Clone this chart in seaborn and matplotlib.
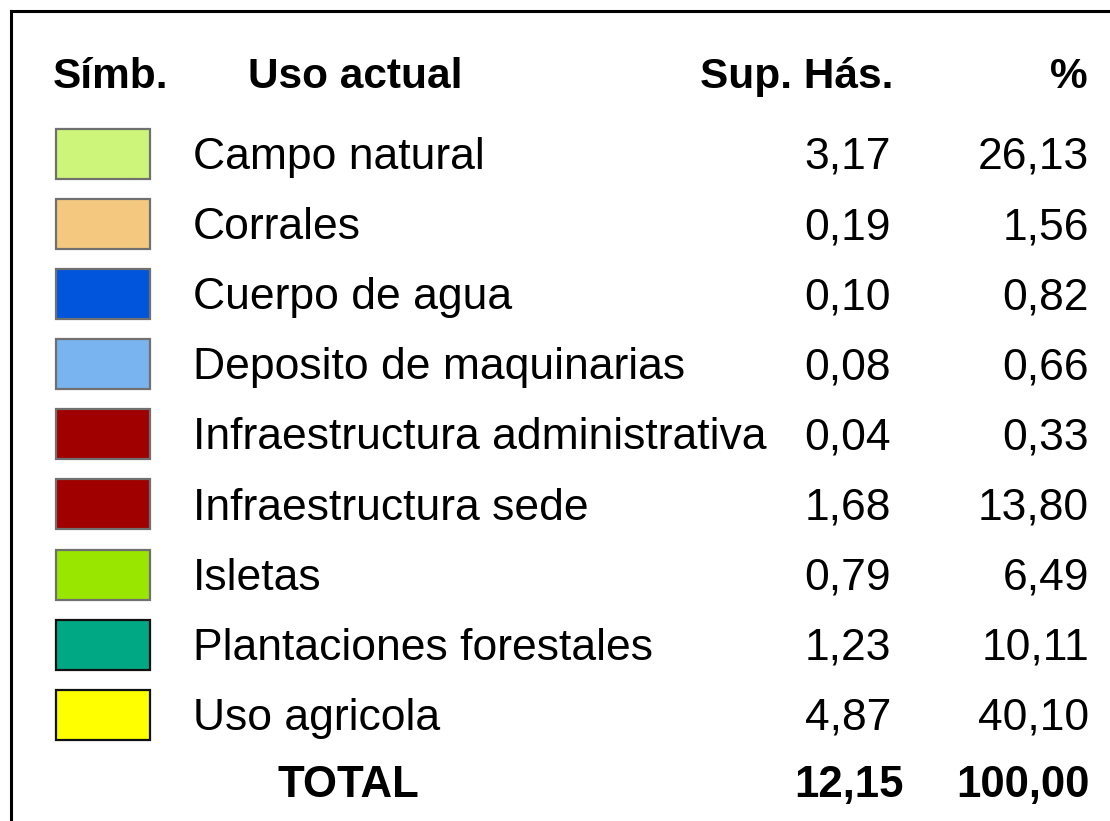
import matplotlib
matplotlib.use('Agg')
import matplotlib.pyplot as plt
import seaborn as sns
from matplotlib.patches import Rectangle

uso = ['Campo natural', 'Corrales', 'Cuerpo de agua', 'Deposito de maquinarias',
       'Infraestructura administrativa', 'Infraestructura sede', 'Isletas',
       'Plantaciones forestales', 'Uso agricola']
sup_has = [3.17, 0.19, 0.10, 0.08, 0.04, 1.68, 0.79, 1.23, 4.87]
porcentaje = [26.13, 1.56, 0.82, 0.66, 0.33, 13.80, 6.49, 10.11, 40.10]
colores = ['#CCF57A', '#F5C880', '#0055DD', '#7AB4F0', '#A00000',
           '#A00000', '#99E600', '#00A884', '#FFFF00']
bordes = ['#707070', '#707070', '#707070', '#707070', '#707070',
          '#707070', '#707070', '#111111', '#111111']

sns.set_style('white')
plt.rcParams['font.family'] = ['Liberation Sans', 'DejaVu Sans']
plt.rcParams['text.color'] = 'black'


def fmt(v):
    return f'{v:.2f}'.replace('.', ',')


fig = plt.figure(figsize=(11.1, 8.21), dpi=100)
ax = fig.add_axes([0, 0, 1, 1])
ax.set_xlim(0, 1110)
ax.set_ylim(821, 0)
ax.axis('off')

# marco
ax.plot([11, 11], [821, 11], color='black', lw=2.2, solid_capstyle='projecting')
ax.plot([11, 1110], [11, 11], color='black', lw=2.2, solid_capstyle='projecting')

# encabezado
hy = 88
hs = 30.5
ax.text(53, hy, 'Símb.', fontsize=hs, fontweight='bold', va='baseline')
ax.text(248, hy, 'Uso actual', fontsize=hs, fontweight='bold', va='baseline')
ax.text(893, hy, 'Sup. Hás.', fontsize=hs, fontweight='bold', va='baseline', ha='right')
ax.text(1088, hy, '%', fontsize=hs, fontweight='bold', va='baseline', ha='right')

y0, step = 154, 70.1
fs = 32
for i, (u, s, p, c, b) in enumerate(zip(uso, sup_has, porcentaje, colores, bordes)):
    yc = y0 + i * step
    ax.add_patch(Rectangle((56, yc - 25), 94, 50, facecolor=c, edgecolor=b, lw=1.6))
    ax.text(193, yc + 15, u, fontsize=fs, va='baseline')
    ax.text(891, yc + 15, fmt(s), fontsize=fs, va='baseline', ha='right')
    ax.text(1089, yc + 15, fmt(p), fontsize=fs, va='baseline', ha='right')

ty = 797
ax.text(348, ty, 'TOTAL', fontsize=31.5, fontweight='bold', va='baseline', ha='center')
ax.text(904, ty, fmt(sum(sup_has)), fontsize=31.5, fontweight='bold', va='baseline', ha='right')
ax.text(1090, ty, fmt(sum(porcentaje)), fontsize=31.5, fontweight='bold', va='baseline', ha='right')

fig.savefig('out.png', dpi=100, facecolor='white')
